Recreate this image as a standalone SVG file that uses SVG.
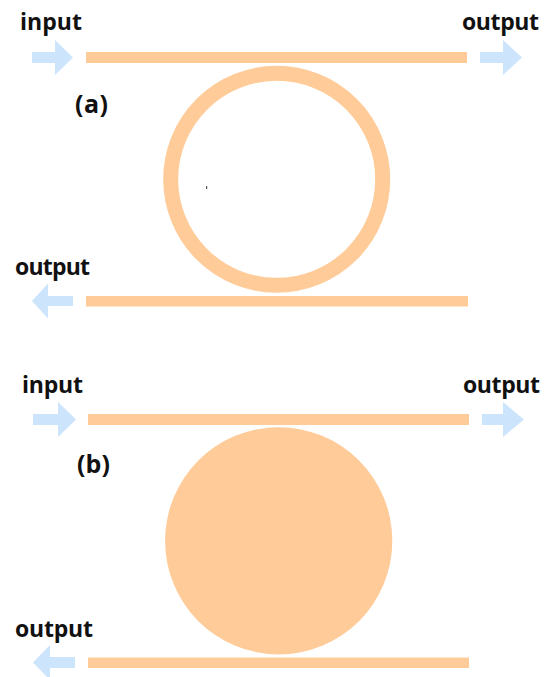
<svg xmlns="http://www.w3.org/2000/svg" width="545" height="677" viewBox="0 0 545 677">
  <style>
    .wg { fill: #FFCB98; }
    .arr { fill: #CCE4FC; }
    .lbl { font-family: "Open Sans", "Liberation Sans", sans-serif; font-weight: bold; font-size: 23px; fill: #111; }
    .tag { font-family: "Open Sans", "Liberation Sans", sans-serif; font-weight: bold; font-size: 25px; fill: #111; }
  </style>
  <rect width="545" height="677" fill="#fff"/>

  <g id="panel-a">
    <g id="a-bus-top"><rect class="wg" x="86" y="52" width="381" height="11"/></g>
    <g id="a-ring"><circle cx="276.7" cy="179.3" r="106" fill="none" stroke="#FFCB98" stroke-width="15"/></g>
    <rect x="206" y="186" width="1.2" height="3" fill="#555"/>
    <g id="a-bus-bottom"><rect class="wg" x="86" y="296" width="382" height="10.5"/></g>
    <g id="a-label"><text class="tag" x="75" y="113" textLength="33">(a)</text></g>
    <g id="a-input">
      <text class="lbl" x="20" y="30" textLength="62">input</text>
    </g>
    <g id="a-output-right">
      <text class="lbl" x="462" y="30" textLength="77">output</text>
    </g>
    <g id="a-output-left">
      <text class="lbl" x="15" y="275" textLength="75">output</text>
    </g>
  </g>

  <g id="panel-b">
    <g id="b-bus-top"><rect class="wg" x="88" y="414" width="381" height="11"/></g>
    <g id="b-disk"><circle class="wg" cx="278.7" cy="540.8" r="113.6"/></g>
    <g id="b-bus-bottom"><rect class="wg" x="88" y="657.5" width="381" height="10.5"/></g>
    <g id="b-label"><text class="tag" x="77" y="473" textLength="33">(b)</text></g>
    <g id="b-input">
      <text class="lbl" x="22" y="393" textLength="61">input</text>
    </g>
    <g id="b-output-right">
      <text class="lbl" x="463" y="393" textLength="77">output</text>
    </g>
    <g id="b-output-left">
      <text class="lbl" x="15" y="637" textLength="78">output</text>
    </g>
  </g>

  <g id="connectors">
    <polygon class="arr" points="32,52 55,52 55,40 73,57.5 55,75 55,63 32,63"/>
    <polygon class="arr" points="480,52 503,52 503,40 522,57.5 503,75 503,63 480,63"/>
    <polygon class="arr" points="73,296 48,296 48,283.5 32,301 48,318.5 48,306 73,306"/>
    <polygon class="arr" points="33,414 58,414 58,402 76,419.5 58,437 58,425 33,425"/>
    <polygon class="arr" points="482,414 503,414 503,402 524,419.5 503,437 503,425 482,425"/>
    <polygon class="arr" points="75,657 50,657 50,645 33,662.5 50,680 50,668 75,668"/>
  </g>
</svg>
